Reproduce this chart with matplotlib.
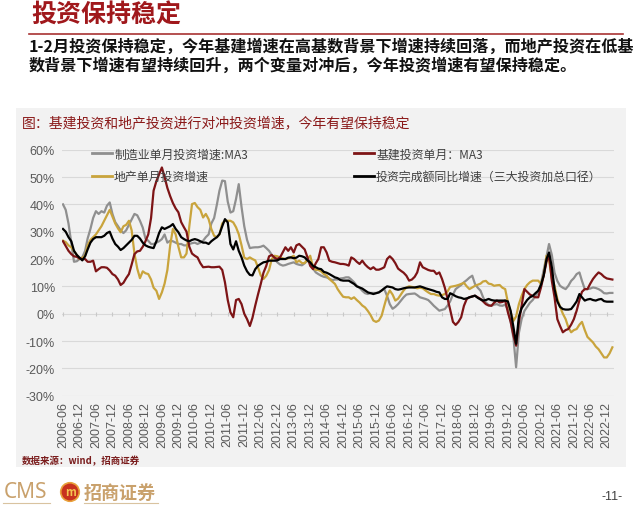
import numpy as np
import pandas as pd
import matplotlib
matplotlib.use('Agg')
import matplotlib.pyplot as plt
from matplotlib.lines import Line2D
from matplotlib.patches import Rectangle
from matplotlib.ticker import FuncFormatter

plt.rcParams['font.family'] = ['Noto Sans CJK SC', 'DejaVu Sans']

# monthly, 2006-06 .. 2023-02
months = pd.date_range('2006-06-01', '2023-02-01', freq='MS')
tick_dates = pd.date_range('2006-06-01', '2022-12-01', freq='6MS')

mfg_ma3 = [
    40, 38, 33, 26, 19, 19.2, 20,
    20.6, 23, 27.5, 31, 35, 37.5, 36.5, 37.5, 37, 39.5, 40.7, 36.5,
    33.5, 32, 30.5, 29.5, 30.5, 32.5, 34.5, 36.5, 36, 34, 31.5, 27.5,
    26.7, 25.5, 25.5, 26, 26.5, 27.3, 29, 26, 26.7, 26.5, 26, 25.5,
    25.5, 25, 25, 25.5, 25.8, 26, 25.5, 26, 26.7, 28, 29, 33,
    35, 40, 45, 48.7, 48.5, 41, 37, 37.5, 42, 47.4, 39, 32,
    27, 24, 24.2, 24.3, 24.3, 24.5, 24.9, 24, 23, 21.5, 20, 18.8,
    18, 17.6, 17.8, 18.2, 18.5, 18.8, 18.2, 17.9, 17.7, 18.5, 19.4, 18.5,
    16.5, 15.1, 14.5, 13.9, 13.5, 13.3, 12.8, 12.3, 12.5, 12.5, 12.9, 13,
    13.3, 13.3, 12.5, 11.5, 10.2, 9.5, 8.4, 7.5, 7.2, 7.6, 7.6, 7.6,
    7.8, 8.5, 9, 6.5, 3.5, 1.8, 2.5, 3.5, 4.8, 6, 7, 7.2,
    7.3, 7.4, 6.8, 6, 5.7, 5.4, 5, 4, 2.9, 2, 1.1, 1.4,
    1.7, 3, 4.5, 7, 9, 9.8, 10.5, 11.5, 12.3, 13.2, 13.9, 10.9,
    9.5, 8.4, 6, 4.1, 3.2, 2.9, 3.3, 3.5, 3, 2.9, 3.3, 1.5,
    -3, -9, -19.6, -7, -2, 1, 2.5, 4, 5, 6.5, 8, 11,
    16, 21, 25.5, 21.5, 15, 12, 10.2, 9.5, 9, 10.2, 12, 13,
    14.5, 15.1, 12, 9, 9, 9.2, 9.6, 9.4, 9, 8.4, 7.5, 7.4,
    7.6, 7.6,
]

re_single = [
    26.7, 26.2, 25, 24.3, 23, 21.5, 20,
    20.5, 21.2, 25, 27, 28, 29, 30.5, 32, 34, 36, 38, 35.5,
    33, 31.2, 29.8, 32, 32.5, 34, 30.5, 22, 16.5, 13, 15.5, 14.8,
    14.5, 12.5, 9.5, 8.4, 5.4, 7.8, 11, 16, 25, 31, 29, 24.5,
    20.6, 20.6, 22, 32, 40.1, 40.5, 39, 38, 35.2, 36.5, 34.6, 31,
    28.5, 28, 29, 33, 34, 34, 34, 33.4, 31.6, 29.1, 25, 20.5,
    20, 20.6, 20, 19.5, 17, 14, 12.7, 13.9, 16, 20, 21.2, 21,
    20.6, 20.2, 20, 20.3, 20.6, 21.2, 18.8, 19.4, 18.5, 18.5, 20, 21.2,
    17, 16, 16, 15.5, 14.5, 13.9, 12.7, 11.8, 10.9, 9, 7.5, 6.2,
    6, 6, 5.4, 6, 5, 4.1, 3, 2.3, 1, -0.5, -2.5, -3,
    -2.5, -0.7, 2.9, 6.5, 8.5, 7, 4.8, 5.5, 7, 8.5, 9.6, 10,
    9.8, 9.6, 9.3, 9.5, 9.3, 8.5, 7.8, 7.2, 7.2, 6.8, 6.6, 6.8,
    7.2, 8.2, 9.8, 10, 10.2, 10.5, 10.9, 11.3, 10, 9, 9.6, 10.2,
    10.6, 11, 11.8, 12, 11, 10.8, 10.2, 10.4, 10.5, 9.5, 9, 4.1,
    0.5, -2.6, -1, 3.5, 6.5, 9, 10.5, 11.5, 12.1, 12.1, 12.1, 10.9,
    14, 21.2, 19.5, 13, 10.2, 5.4, 2.5, 0, -2, -5, -6.8, -6,
    -5.6, -4, -3, -6, -8.5, -9.5, -10.5, -12, -13, -14.5, -16, -16,
    -14.5, -12.3,
]

infra_ma3 = [
    26.5, 24.8, 23, 21.8, 21, 20.8, 20.2,
    20, 20, 19, 19, 19.4, 15.5, 16.3, 17, 17, 16.8, 15.8, 14.5,
    13.9, 12.5, 10.5, 11.3, 13, 14.5, 18, 21.8, 22.8, 23, 24.5, 26.5,
    29, 35, 45, 48.5, 51, 53.5, 50, 46, 43, 40.5, 38.5, 37.1,
    33.5, 31.6, 30, 24.5, 22, 21.2, 20.6, 18.5, 17, 17.1, 17.2, 17,
    17, 17.1, 17.2, 16, 11.5, 5, 0.5, -1.3, 5, 5.4, 3.5, 0,
    -2, -4.5, -1.5, 3, 7, 10.9, 15, 17.5, 21, 21.5, 20.5, 20,
    20.6, 22.5, 24.3, 23, 24.3, 22.4, 25, 25.5, 24.5, 23.5, 20.6, 17.5,
    16.3, 18.5, 20, 24.3, 24.3, 22.4, 19.4, 19, 18.8, 18.5, 18.2, 18.2,
    18, 17.6, 20.6, 20, 19, 18.2, 19.4, 18, 17, 16.3, 17, 16.1,
    16.1, 16.5, 17, 20, 21, 20, 18.5, 16.5, 15.7, 15, 13.9, 12.1,
    12.5, 13.5, 15.1, 18.8, 17, 16.5, 16, 15.7, 15.7, 14.5, 15.1, 12.7,
    9.5, 5.4, 1.5, -3, -4.1, -3, -1.3, 2.9, 5.4, 6, 6.3, 6.6,
    6, 5.4, 4.5, 3.5, 3, 2.9, 4, 4.8, 4.1, 4.3, 4.8, 0.5,
    -3, -8, -11.7, -3, 3, 9, 8, 7, 6.5, 6, 6, 9.5,
    14, 19, 21.5, 12, 6, -2, -4.5, -6.8, -6, -5.6, -4, -2,
    1.1, 5, 8, 9, 9, 11, 12.7, 14, 15.1, 14.5, 13.5, 12.9,
    12.7, 12.5,
]

total_yoy = [
    31, 30, 28, 26.5, 23, 21.5, 20.5,
    19.5, 21, 23.5, 26, 27.3, 28, 28, 28, 28.5, 29.5, 30, 27.5,
    25.5, 24.5, 23.3, 24, 25, 26, 27, 28.5, 28.5, 27.5, 26, 25,
    24.5, 24.2, 24, 26.5, 29.5, 31.6, 31, 31.5, 32, 32.8, 31, 29.8,
    28, 27.3, 26.8, 26.5, 27, 27.3, 27, 26.5, 26, 26, 25.5, 26.5,
    27.3, 28, 29.1, 32, 34.6, 33.4, 25.5, 23.5, 26.5, 23, 20.6, 17.6,
    15.5, 14.2, 14, 16.3, 17.5, 18.2, 18.8, 19, 19.4, 19.4, 19.4, 19.5,
    20, 20, 20, 20.5, 20.6, 20.3, 20.5, 21.2, 21, 20.6, 19.5, 18.8,
    17.5, 17, 16.5, 16.3, 15.3, 15, 14.5, 13.9, 13.3, 13, 12.3, 12.1,
    12.1, 12.1, 11.5, 10.9, 10, 9.6, 9.2, 8.5, 7.8, 7.5, 7.2, 7.5,
    7.8, 8.5, 9.3, 10, 9.8, 9.6, 9, 8.8, 9, 9.3, 9.5, 9.6,
    9.6, 9.6, 9.8, 10, 9.7, 9.3, 9, 8.7, 8.4, 8, 7.8, 6,
    5.4, 5.4, 7.5, 7, 6.4, 6, 5.8, 5.4, 5.6, 6, 6.3, 6.6,
    5.8, 5.2, 4.8, 5, 5.4, 5, 4.8, 4.8, 4.8, 4.8, 4.8, 4.5,
    1, -5, -11, -1, 2, 3.5, 5, 6, 6.5, 7.5, 8.4, 10.5,
    14, 20, 22.4, 17, 9, 4.5, 2.5, 1.7, 1.5, 1.5, 1.7, 3,
    4.5, 7.2, 6, 4.8, 5.2, 5.4, 5, 4.8, 5.2, 5.4, 4.6, 4.4,
    4.4, 4.4,
]

names = ['制造业单月投资增速:MA3', '地产单月投资增速', '基建投资单月：MA3', '投资完成额同比增速（三大投资加总口径）']
colors = ['#8f8f8f', '#c9a43c', '#7d1416', '#000000']

W, H = 640, 506
def fx(px):
    return px / W
def fy(py):
    return 1 - py / H

fig = plt.figure(figsize=(6.4, 5.06), dpi=100)

# page header
fig.text(fx(31), fy(16), '投资保持稳定', fontsize=18, fontweight='bold', color='#a0181c', va='center', ha='left')
fig.add_artist(Line2D([fx(29), fx(623)], [fy(35), fy(35)], color='#a83232', lw=1.2))
fig.text(fx(29), fy(47), '1-2月投资保持稳定，今年基建增速在高基数背景下增速持续回落，而地产投资在低基',
         fontsize=11.6, fontweight='bold', color='#111111', va='center')
fig.text(fx(29), fy(66), '数背景下增速有望持续回升，两个变量对冲后，今年投资增速有望保持稳定。',
         fontsize=11.6, fontweight='bold', color='#111111', va='center')

# grey panel behind the chart
fig.patches.append(Rectangle((fx(16), fy(468)), fx(626) - fx(16), fy(109) - fy(468),
                             transform=fig.transFigure, fc='#f2f2f2', ec='none', zorder=-1))
fig.text(fx(22), fy(123), '图：基建投资和地产投资进行对冲投资增速，今年有望保持稳定',
         fontsize=10, color='#8b1a1a', va='center')

ax = fig.add_axes([fx(62), fy(396.7), fx(614) - fx(62), fy(150.7) - fy(396.7)])
ax.patch.set_alpha(0)

series = [mfg_ma3, re_single, infra_ma3, total_yoy]
for vals, c, n in zip(series, colors, names):
    ax.plot(months, vals, color=c, lw=1.6, label=n, solid_joinstyle='round')

ax.set_ylim(-30, 60)
ax.set_yticks(np.arange(-30, 61, 10))
ax.yaxis.set_major_formatter(FuncFormatter(lambda v, p: '{:.0f}%'.format(v)))
ax.set_xlim(months[0] - pd.Timedelta(days=11), months[-1] + pd.Timedelta(days=18))
ax.set_xticks(tick_dates)
ax.set_xticklabels([d.strftime('%Y-%m') for d in tick_dates], rotation=90,
                   fontfamily='Liberation Sans')
for lab in ax.get_yticklabels():
    lab.set_fontfamily('Liberation Sans')
ax.tick_params(axis='y', length=0, pad=5, labelsize=9, labelcolor='#595959')
ax.tick_params(axis='x', length=0, pad=4, labelsize=9, labelcolor='#595959')
ax.yaxis.grid(True, color='#d9d9d9', lw=0.8)
ax.set_axisbelow(True)
for s in ax.spines.values():
    s.set_visible(False)
# small tick marks on the 0% line
ax.plot(tick_dates, np.zeros(len(tick_dates)), ls='none', marker='|', ms=3.5,
        mew=0.8, color='#c8c8c8', zorder=1)

# legends (two columns)
hs = [Line2D([], [], color=c, lw=2) for c in colors]
leg_kw = dict(frameon=False, fontsize=8.6, handlelength=1.7, handletextpad=0.15,
              borderpad=0, borderaxespad=0, labelspacing=0.8, labelcolor='#404040',
              loc='upper left')
leg1 = fig.legend(hs[:2], names[:2], bbox_to_anchor=(fx(92), fy(148.5)), **leg_kw)
leg2 = fig.legend(hs[2:], names[2:], bbox_to_anchor=(fx(354), fy(148.5)), **leg_kw)

fig.text(fx(22), fy(461), '数据来源：wind，招商证券', fontsize=6.8, fontweight='bold',
         color='#7a1c1c', va='center')

# footer logo and page number
fig.text(fx(4), fy(493), 'CMS', fontsize=15, fontweight='bold', fontfamily='Noto Sans',
         color='#c9a16c', va='center')
fig.text(fx(70), fy(493), 'm', fontsize=8, fontweight='bold', style='italic', color='#f5c451',
         ha='center', va='center',
         bbox=dict(boxstyle='circle,pad=0.25', fc='#c8321e', ec='#e9a23b', lw=1.2))
fig.text(fx(84), fy(493), '招商证券', fontsize=13, fontweight='bold', color='#c9a16c', va='center')
fig.add_artist(Line2D([fx(3), fx(50)], [fy(504), fy(504)], color='#d9c3a0', lw=0.8))
fig.add_artist(Line2D([fx(84), fx(158)], [fy(504), fy(504)], color='#d9c3a0', lw=0.8))
fig.text(fx(612), fy(497), '-11-', fontsize=9, color='#404040', ha='center', va='center',
         fontfamily='Liberation Sans')

fig.savefig('out.png', dpi=100)
